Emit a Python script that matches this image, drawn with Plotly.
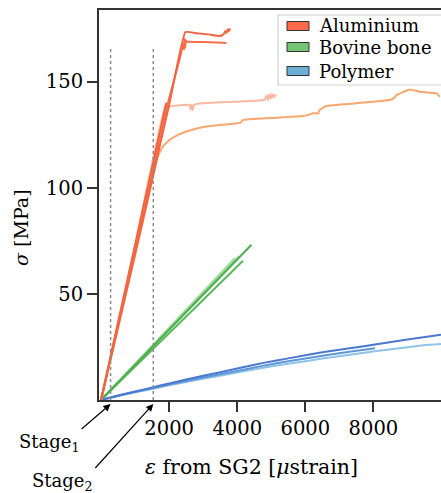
import plotly.graph_objects as go

# ---- stress-strain data (strain from SG2 in microstrain, stress in MPa) ----
al_a_x = [0, 1000, 2000, 2476, 2800, 3200, 3485, 3600, 3650, 3680, 3720, 3750, 3790]
al_a_y = [0, 69, 139, 173.3, 172.8, 172.1, 171.4, 172.3, 173.8, 172.8, 174.6, 173.6, 175.0]

al_b_x = [0, 1000, 1950, 2300, 2420, 2440, 2456, 2470, 2490, 2520, 2600, 3000, 3400, 3682]
al_b_y = [0, 71, 139, 160, 168, 165, 170, 166, 169.5, 168.7, 168.8, 168.6, 168.4, 168.2]

al_e_x = [0, 1920]
al_e_y = [0, 140]

al_c_x = [0, 1000, 1888, 2000, 2300, 2600, 2640, 2660, 2690, 2720, 2760, 3000, 3485,
          4000, 4500, 4810, 4860, 4900, 4940, 4980, 5020, 5060, 5100, 5150]
al_c_y = [0, 73, 138.7, 138.2, 138.8, 139.0, 136.8, 139.2, 136.5, 138.6, 139.3, 139.8, 140.2,
          140.5, 140.9, 141.5, 143.6, 141.2, 144.0, 141.8, 144.2, 142.4, 143.8, 143.0]

al_d_x = [0, 1000, 1500, 1670, 1818, 2015, 2250, 2505, 3000, 3485, 4000, 4100, 4170, 5000,
          5933, 6100, 6227, 6380, 6424, 6620, 7500, 8481, 8600, 8677, 9068, 9362, 9853, 9950]
al_d_y = [0, 68, 103, 114.8, 119.5, 122.6, 124.8, 126.5, 128.6, 129.5, 130.3, 130.6, 131.9, 132.8,
          133.8, 134.3, 135.1, 135.0, 136.7, 138.5, 139.8, 141.3, 142.2, 143.6, 146.3, 145.2, 144.4, 142.8]

bone_1_x = [0, 4418]
bone_1_y = [0, 73.1]
bone_2_x = [0, 4170]
bone_2_y = [0, 65.6]
bone_3_x = [0, 3926]
bone_3_y = [0, 66.8]
bone_4_x = [0, 4050]
bone_4_y = [0, 67.6]

poly_1_x = [0, 500, 1000, 1535, 2000, 3000, 4000, 4810, 5500, 6500, 7300, 8045, 9000, 9985]
poly_1_y = [0, 2.1, 4.0, 6.0, 7.8, 11.4, 14.8, 17.6, 19.6, 22.5, 24.4, 26.1, 28.5, 30.7]
poly_2_x = [0, 500, 1000, 1535, 2000, 3000, 4000, 4810, 5500, 6500, 7300, 8045]
poly_2_y = [0, 2.0, 3.8, 5.6, 7.3, 10.6, 13.7, 16.3, 18.2, 20.8, 22.7, 24.4]
poly_3_x = [0, 500, 1000, 1535, 2000, 3000, 4000, 4810, 5500, 6500, 7300, 8045, 9000, 9500, 9985]
poly_3_y = [0, 1.9, 3.6, 5.3, 6.9, 10.0, 12.9, 15.3, 17.1, 19.5, 21.3, 23.0, 24.8, 25.9, 26.4]

stage_x = [280, 1535]
stage_top = 166
stage_labels = ["Stage<sub>1</sub>", "Stage<sub>2</sub>"]

x_ticks = [2000, 4000, 6000, 8000]
y_ticks = [50, 100, 150]

legend_names = ["Aluminium", "Bovine bone", "Polymer"]
legend_colors = ["#fb6a4a", "#74c476", "#6baed6"]

FONT = "'DejaVu Serif', 'Liberation Serif', serif"
W, H = 441, 493
ML, MR, MT, MB = 99, 0, 10, 93


def px(x):
    return (x - ML) / (W - ML - MR)


def py(y):
    return (H - MB - y) / (H - MB - MT)


fig = go.Figure()

curves = [
    (bone_3_x, bone_3_y, "#a8dda0"),
    (bone_4_x, bone_4_y, "#8fd28a"),
    (bone_2_x, bone_2_y, "#5cb85c"),
    (bone_1_x, bone_1_y, "#4caf50"),
    (poly_3_x, poly_3_y, "#8fc3ea"),
    (poly_2_x, poly_2_y, "#5e97d8"),
    (poly_1_x, poly_1_y, "#4a78d0"),
    (al_c_x, al_c_y, "#fcb8a0"),
    (al_d_x, al_d_y, "#f9a66f"),
    (al_e_x, al_e_y, "#ef5a3a"),
    (al_b_x, al_b_y, "#f4704e"),
    (al_a_x, al_a_y, "#f2633f"),
]
for cx, cy, col in curves:
    fig.add_trace(go.Scatter(x=cx, y=cy, mode="lines", showlegend=False,
                             line=dict(color=col, width=2, shape="spline", smoothing=0.3)))

# stage markers
for sx in stage_x:
    fig.add_trace(go.Scatter(x=[sx, sx], y=[0, stage_top], mode="lines", showlegend=False,
                             line=dict(color="#8a8a8a", width=1.5, dash="dot")))

shapes = []
annotations = []

# legend box
shapes.append(dict(type="rect", xref="paper", yref="paper",
                   x0=px(278), x1=px(447), y0=py(85), y1=py(15),
                   line=dict(color="#cfcfcf", width=1.2), fillcolor="white", layer="above"))
for i, (name, col) in enumerate(zip(legend_names, legend_colors)):
    cy = [26, 47, 71][i]
    shapes.append(dict(type="rect", xref="paper", yref="paper",
                       x0=px(287), x1=px(309), y0=py(cy + 4.5), y1=py(cy - 4.5),
                       line=dict(color="#333333", width=1), fillcolor=col, layer="above"))
    annotations.append(dict(text=name, xref="paper", yref="paper", x=px(317), y=py(cy),
                            xanchor="left", yanchor="middle", showarrow=False,
                            font=dict(family=FONT, size=18, color="black")))

# axis titles
annotations.append(dict(text="<i>σ</i> [MPa]", xref="paper", yref="paper",
                        x=px(21), y=py(228), textangle=-90, showarrow=False,
                        xanchor="center", yanchor="middle",
                        font=dict(family=FONT, size=19, color="black")))
annotations.append(dict(text="<i>ε</i> from SG2 [<i>μ</i>strain]", xref="paper", yref="paper",
                        x=px(251.5), y=py(467), showarrow=False,
                        xanchor="center", yanchor="middle",
                        font=dict(family=FONT, size=20.5, color="black")))

# stage labels: text box top-right corner sits on the arrow tail
tails = [(-29, 25), (-58, 64)]
for sx, lab, (ax, ay) in zip(stage_x, stage_labels, tails):
    annotations.append(dict(text=lab, xref="x", yref="paper", x=sx, y=py(404),
                            ax=ax, ay=ay, showarrow=True, arrowhead=2, arrowsize=1.2,
                            arrowwidth=1.2, arrowcolor="black",
                            xanchor="right", yanchor="top",
                            font=dict(family=FONT, size=18, color="black")))

axis_common = dict(showgrid=False, zeroline=False, showline=True, linecolor="#333333",
                   linewidth=2, ticks="outside", ticklen=10, tickwidth=1.5,
                   tickcolor="#333333",
                   tickfont=dict(family=FONT, size=19.5, color="black"))

fig.update_layout(
    width=W, height=H,
    margin=dict(l=ML, r=MR, t=MT, b=MB),
    plot_bgcolor="white", paper_bgcolor="white",
    showlegend=False,
    xaxis=dict(range=[-60, 9985], tickvals=x_ticks, mirror=True, **axis_common),
    yaxis=dict(range=[0, 183.7], tickvals=y_ticks, **axis_common),
    shapes=shapes, annotations=annotations,
)

fig.write_html("out.html")
